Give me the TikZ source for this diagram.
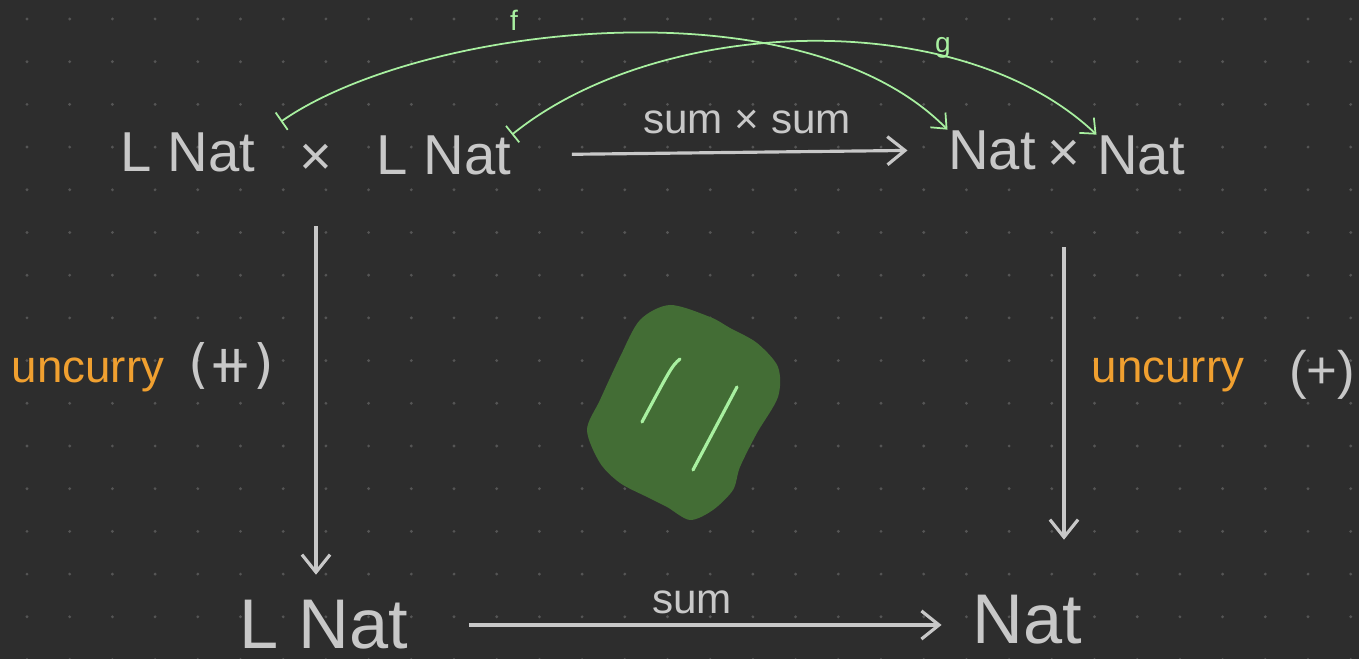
\documentclass[tikz,border=0pt]{standalone}
\usepackage{fontspec}
\setmainfont{Liberation Sans}
\newfontfamily\symfont{DejaVu Sans}
\usetikzlibrary{arrows.meta, positioning}
\definecolor{bgdark}{HTML}{2D2D2D}
\definecolor{griddot}{HTML}{555555}
\definecolor{chalk}{HTML}{C8C8C8}
\definecolor{funcorange}{HTML}{F0A030}
\definecolor{mapgreen}{HTML}{A8F0A0}
\definecolor{blobgreen}{HTML}{436D35}

\begin{document}
\begin{tikzpicture}[x=0.01cm, y=-0.01cm,
  obj/.style={text=chalk, inner sep=0pt, font=\fontsize{16}{19}\selectfont},
  bigobj/.style={obj, font=\fontsize{20}{24}\selectfont},
  lbl/.style={text=chalk, inner sep=0pt, font=\fontsize{12}{14}\selectfont},
  fn/.style={text=funcorange, inner sep=0pt, font=\fontsize{13}{16}\selectfont},
  small/.style={text=mapgreen, inner sep=0pt, font=\fontsize{8}{10}\selectfont},
  arr/.style={chalk, line width=0.9pt, -{Straight Barb[length=5pt, width=8pt]}},
  mapsto/.style={mapgreen, line width=0.5pt, {Bar[width=6pt]}-{Straight Barb[length=3.5pt, width=6pt]}},
  eqline/.style={mapgreen, line width=0.9pt, line cap=round}]
  \useasboundingbox (0,0) rectangle (1359,659);
  \fill[bgdark] (0,0) rectangle (1359,659);
  \foreach \i in {0,...,31}
    \foreach \j in {0,...,15}
      \fill[griddot] ({27+42.7*\i},{19+42.7*\j}) circle (0.45pt);

  % top row
  \node[obj] (la) at (188,152) {L Nat};
  \node[obj] (times) at (316,160) {×};
  \node[obj] (lb) at (444,155) {L Nat};
  \node[obj] (na) at (992,150) {Nat};
  \node[obj] (tx) at (1064,156) {×};
  \node[obj] (nb) at (1141,155) {Nat};
  % bottom row
  \node[bigobj] (lnat) at (324,625) {L Nat};
  \node[bigobj] (nat) at (1027,620) {Nat};

  \node[lbl] (sumsum) at (747,122) {sum × sum};
  \node[lbl] (sum) at (692,602) {sum};
  \node[fn] (ucl) at (88,375) {uncurry};
  \node[obj, font=\symfont\fontsize{15}{18}\selectfont] (catop) at (231,366) {(⧺)};
  \node[fn] (ucr) at (1168,375) {uncurry};
  \node[obj, font=\fontsize{15}{18}\selectfont] (plusop) at (1322,375) {(+)};

  \draw[arr, shorten <=0.6cm, shorten >=0.4cm] (lb.east) -- (na.west);
  \draw[arr, shorten <=0.6cm, shorten >=0.3cm] (lnat.east) -- (lnat.east -| nat.west);
  \draw[arr, shorten <=0.5cm, shorten >=0.25cm] (times.south) -- (times.south |- lnat.north);
  \draw[arr, shorten <=0.75cm, shorten >=0.55cm] (tx.south) -- (tx.south |- nat.north);

  \draw[mapsto] (la.north east) ++(25,-10) coordinate (ftail)
    (ftail) .. controls (420,25) and (800,-20) .. (na.north west);
  \draw[mapsto] (lb.north east) coordinate (gtail)
    (gtail) .. controls (660,15) and (960,5) .. (nb.north west);
  \node[small] (flbl) at (514,20) {f};
  \node[small] (glbl) at (943,48) {g};

  % the equality blob
  \fill[blobgreen] plot[smooth cycle] coordinates {(670,305) (710,317) (730,328)
    (757,343) (778,367) (778,397) (757,433) (740,467) (733,490) (713,510)
    (690,520) (667,507) (647,497) (620,483) (600,463) (587,430) (600,400)
    (620,357) (640,320)};
  \draw[eqline] (680,359) .. controls (672,366) .. (642,422);
  \draw[eqline] (737,387) -- (693,470);
\end{tikzpicture}
\end{document}
